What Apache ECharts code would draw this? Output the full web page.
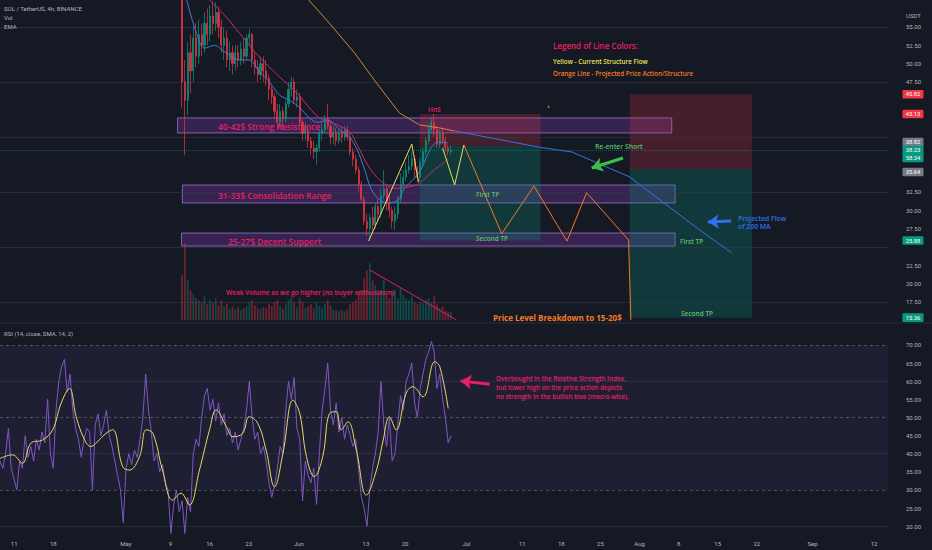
<!DOCTYPE html>
<html>
<head>
<meta charset="utf-8">
<script src="https://cdn.jsdelivr.net/npm/echarts@6.0.0/dist/echarts.min.js"></script>
<style>
html,body{margin:0;padding:0;background:#151924;overflow:hidden;}
#chart{width:932px;height:550px;}
</style>
</head>
<body>
<div id="chart"></div>
<script>
// ---------------- DATA (x = days since 9 Apr 2022) ----------------
const candleStartDay = 32.5;      // 12h candles
const candleStep = 0.5;
// [open, close, low, high]
const candles = [
 [60.5,47.5,44.0,62.0],[47.5,45.0,37.5,50.5],[45.0,51.5,43.0,53.0],[51.5,49.0,46.0,54.0],[49.0,53.5,47.5,55.0],
 [53.5,51.0,49.5,55.5],[51.0,54.0,50.0,56.0],[54.0,52.5,51.0,55.5],[52.5,55.5,51.5,57.0],[55.5,54.0,52.5,57.5],
 [54.0,56.5,53.0,58.0],[56.5,55.5,54.0,58.5],[55.5,57.0,54.5,58.4],[57.0,55.0,53.5,57.8],[55.0,52.5,51.5,56.0],
 [52.5,53.5,50.5,55.0],[53.5,50.5,49.5,54.5],[50.5,51.5,49.0,53.0],[51.5,50.0,48.5,52.5],[50.0,51.5,49.0,52.5],
 [51.5,50.5,49.5,52.5],[50.5,52.0,49.8,53.0],[52.0,51.0,50.0,53.5],[51.0,53.5,50.5,54.0],[53.5,54.0,52.5,54.8],
 [54.0,50.5,49.5,54.2],[50.5,49.5,48.5,51.5],[49.5,48.5,47.5,50.5],[48.5,50.0,47.8,51.0],[50.0,49.0,47.5,51.0],
 [49.0,48.0,47.0,50.5],[48.0,46.5,45.0,48.5],[46.5,45.5,44.5,47.0],[45.5,43.5,42.5,46.0],[43.5,42.0,41.0,44.5],
 [42.0,43.5,41.5,44.5],[43.5,42.5,41.0,44.0],[42.5,44.5,42.0,45.0],[44.5,46.5,44.0,47.5],[46.5,47.5,45.5,48.2],
 [47.5,45.0,44.5,48.0],[45.0,45.5,44.0,46.5],[45.5,42.0,41.5,46.0],[42.0,40.5,39.5,42.5],[40.5,41.0,39.5,42.0],
 [41.0,39.5,38.5,41.5],[39.5,38.5,37.5,40.0],[38.5,38.0,37.0,39.5],[38.0,38.5,36.2,39.0],[38.5,40.5,38.0,41.0],
 [40.5,41.0,39.5,42.0],[41.0,42.5,40.5,43.0],[42.5,41.5,41.0,44.5],[41.5,40.0,39.0,42.0],[40.0,40.5,39.0,41.5],
 [40.5,39.5,38.8,41.2],[39.5,40.5,39.0,41.0],[40.5,40.0,39.2,41.5],[40.0,41.0,39.5,41.5],[41.0,40.0,39.5,41.5],
 [40.0,38.0,37.5,40.5],[38.0,37.0,36.0,38.5],[37.0,35.5,35.0,37.5],[35.5,33.5,32.5,36.0],[33.5,31.5,31.0,34.0],
 [31.5,28.5,28.0,32.0],[28.5,27.5,26.5,29.5],[27.5,29.0,25.8,29.5],[29.0,28.0,27.0,30.5],[28.0,30.5,27.5,31.0],
 [30.5,29.5,28.5,31.5],[29.5,32.0,29.0,33.0],[32.0,33.0,31.5,35.5],[33.0,31.0,30.0,33.5],[31.0,30.0,29.0,32.0],
 [30.0,28.5,27.5,30.5],[28.5,29.5,27.3,30.5],[29.5,31.5,28.8,32.0],[31.5,33.5,31.0,35.0],[33.5,34.5,33.0,35.5],
 [34.5,35.5,34.0,36.5],[35.5,36.0,35.0,37.5],[36.0,37.0,35.5,38.0],[37.0,35.5,34.5,37.5],[35.5,34.5,33.8,36.0],
 [34.5,36.5,34.0,37.0],[36.5,38.0,36.0,38.5],[38.0,39.5,37.5,40.0],[39.5,41.0,39.0,41.5],[41.0,42.0,40.5,42.6],
 [42.0,41.0,40.0,43.13],[41.0,39.0,38.5,41.5],[39.0,40.5,38.5,41.0],[40.5,39.5,39.0,41.3],[39.5,38.5,38.0,40.0],
 [38.5,38.0,37.5,39.0],[38.0,38.23,37.6,38.8]
];
const volumes = [
 45,77,40,30,26,22,20,18,24,16, 20,18,22,15,20,14,17,12,14,11,
 13,10,12,14,18,20,15,12,11,13, 12,16,14,18,20,14,12,16,20,22,
 18,13,22,18,12,14,16,12,18,14, 12,16,20,15,11,10,9,10,9,11,
 16,18,20,28,30,42,50,57,40,35, 28,30,40,26,22,28,30,22,32,25,
 22,20,24,18,16,18,17,20,22,18, 24,16,12,14,10,9,8
];
const ema200 = [[53.5,60.05],[58.3,55.95],[63.3,51.45],[67.2,47.36],[71.3,43.27],[74.9,41.64],[78.5,41.23],[81.15,40.82]];
const ma200Projection = [[81.15,40.82],[96.3,38.6],[102.1,37.95],[112.4,34.55],[124.9,27.3],[130.6,24.2]];
const emaFast = [[33.1,59.4],[34.7,55.0],[36.5,52.1],[38.3,52.5],[40.1,51.6],[42.7,50.5],[44.5,50.5],[46.3,48.9],[48.1,47.5],[49.9,45.7],[51.7,45.0],[53.5,44.0],[55.2,42.6],[56.7,42.0],[58.5,42.3],[60.6,41.0],[62.4,40.0],[63.8,38.2],[65.1,35.5],[66.3,32.8],[67.8,31.4],[69.5,31.0],[71.0,31.4],[72.2,33.0],[74.0,34.4],[75.3,35.8],[76.7,38.2],[78.1,39.3],[79.9,39.2]];
const emaSlow = [[35.5,60.5],[37.4,58.7],[40.1,56.6],[42.7,54.2],[46.3,50.9],[49.9,48.2],[52.9,46.1],[55.2,44.0],[57.0,42.6],[59.7,41.8],[62.4,40.7],[63.8,38.9],[65.6,36.2],[67.8,34.1],[70.4,33.0],[73.1,33.2],[74.9,33.7],[77.0,35.2],[79.9,36.9]];
const structureA = [[65.8,25.82],[73.5,39.04],[74.7,33.86]];
const structureB = [[79.0,38.5],[81.15,33.45],[82.8,38.91]];
const projectedPath = [[82.8,38.91],[89.55,26.8],[95.3,33.3],[101.2,25.8],[104.7,32.4],[112.2,25.95],[112.6,15.05]];
const volumeTrend = [[66.0,21.86],[81.5,15.04]];
const markerDot = [[97.9,44.1]];
// level boxes: [fromDay, top, toDay, bottom]
const levelBoxes = [[31.7,42.6,119.9,40.55],[32.55,33.45,120.5,31.0],[32.4,26.9,120.5,25.13]];
// short positions: [fromDay, toDay, stop, entry, target]
const shortPositions = [[74.9,96.5,43.13,38.82,25.88],[112.4,134.2,45.82,35.64,15.36]];
const gridPrices = [55,47.5,40,32.5,25,17.5];
const lastPrice = 38.23;
const arrowGreen = [[111.2,37.14],[105.6,35.77]];
const arrowBlue = [[130.5,28.54],[126.35,28.4]];
const arrowPink = [[87.4,59.2],[82.2,60.1]];
const badgeValues = [45.82,43.13,38.82,38.23,35.64,25.88,15.36];
const badgeTexts = ['45.82','43.13','38.82','38.23','35.64','25.88','15.36'];
const countdownText = '58:34';

const rsiStartDay = 0, rsiStep = 0.5;
const rsi = [38,36,40,47,36,33,30,38,36,45, 39,42,38,44,41,46,43,55,40,36,
 52,60,64,66,57,62,52,47,44,39, 44,47,46,30,48,51,45,48,52,45,
 42,38,34,30,21,36,40,37,41,39, 44,50,62,52,46,38,40,35,37,32,
 30,18,26,30,24,27,18,28,24,40, 44,42,50,56,58,52,55,49,54,48,
 51,45,47,43,46,41,44,47,52,60, 50,44,46,40,42,38,32,28,31,36,
 42,40,52,60,55,61,47,44,27,38, 34,32,36,26,40,52,58,65,52,48,
 54,46,50,44,48,45,42,44,36,28, 25,20,30,36,40,46,60,48,42,50,
 38,40,48,56,52,60,62,65,54,50, 58,62,66,68,71,68,58,62,55,50, 43,45];
const rsiMaDays = [0,2.2,4.0,5.5,7.6,9.4,10.9,12.4,13.6,15.1,16.2,17.7,18.9,20.1,21.9,23.1,24.9,26.1,27.3,29.0,30.8,32.3,33.8,35.6,37.4,38.6,40.4,41.6,43.3,44.5,46.0,47.5,49.0,50.5,52.3,53.5,54.7,56.1,57.6,58.8,60.0,60.9,62.1,63.6,65.4,67.2,68.4,69.5,70.7,72.5,73.7,75.5,77.6,78.5,80.0];
const rsiMa = [38.7,39.7,37.4,42.9,43.8,46.6,53.9,58.0,50.2,43.8,42.0,43.8,45.6,46.6,36.4,35.5,39.2,46.6,45.6,35.5,27.2,29.1,25.9,35.5,46.6,52.1,47.5,44.7,45.6,50.2,48.4,41.0,30.9,40.1,54.8,51.1,39.2,33.7,39.2,51.1,51.6,46.6,48.8,41.0,28.6,35.5,43.8,50.2,46.6,56.7,58.5,55.7,65.4,64.0,52.5];
const rsiLevels = [70,50,30];
const rsiGrid = [20,40,60];

const xTickDays = [2,9,22,30,37,44,53,65,72,83,93,100,107,114,121,128,135,145,156];
const xTickLabels = ['11','18','May','9','16','23','Jun','13','20','Jul','11','18','25','Aug','8','15','22','Sep','12'];

// ---------------- CHART ----------------
const X_MIN = 0, X_MAX = 158.5;
const UP = '#089981', DOWN = '#f23645';
const AX = '#b2b5be';
const FONT = 'Roboto';
const AFONT = 'Open Sans';

const candleData = candles.map((c,i)=>[candleStartDay + i*candleStep, c[0], c[1], c[2], c[3]]);
const volumeData = volumes.map((v,i)=>({value:[candleStartDay + i*candleStep, v],
  itemStyle:{color: candles[i][1] >= candles[i][0] ? 'rgba(8,153,129,0.38)' : 'rgba(242,54,69,0.38)'}}));
const rsiData = rsi.map((v,i)=>[rsiStartDay + i*rsiStep, v]);
const rsiMaData = rsiMaDays.map((d,i)=>[d, rsiMa[i]]);

const boxAreas = levelBoxes.map(b=>[
  {coord:[b[0],b[1]], itemStyle:{color:'rgba(140,60,190,0.28)', borderColor:'rgba(160,120,220,0.75)', borderWidth:1}},
  {coord:[b[2],b[3]]}
]);
const posAreas = [];
shortPositions.forEach(p=>{
  posAreas.push([{coord:[p[0],p[2]], itemStyle:{color:'rgba(242,54,69,0.22)'}},{coord:[p[1],p[3]]}]);
  posAreas.push([{coord:[p[0],p[3]], itemStyle:{color:'rgba(8,153,129,0.25)'}},{coord:[p[1],p[4]]}]);
});

function lineSeries(name, data, color, extra){
  return Object.assign({name, type:'line', xAxisIndex:0, yAxisIndex:0, data, showSymbol:false, symbol:'none',
    lineStyle:{color, width:1}, z:3, silent:true, animation:false}, extra||{});
}
function arrowLine(pts, color, w){
  return [
    {coord:pts[0], symbol:'none', lineStyle:{color, width:w, type:'solid'}, itemStyle:{color}},
    {coord:pts[1], symbol:'arrow', symbolSize:11, itemStyle:{color}}
  ];
}

const chart = echarts.init(document.getElementById('chart'), null, {renderer:'svg', width:932, height:550});

// hide axis labels that sit under a price badge
function nearBadge(v){ return badgeValues.some(b=>Math.abs(b-v) < 1.25); }

const xAxisBase = {type:'value', min:X_MIN, max:X_MAX, show:false};
const option = {
  backgroundColor:'#151924',
  animation:false,
  grid:[
    {left:0, top:0, width:888, height:320.3},
    {left:0, top:220, width:888, height:100.3},
    {left:0, top:323.25, width:888, height:221.1},
    {left:0, top:537, width:888, height:1}
  ],
  xAxis:[
    Object.assign({gridIndex:0}, xAxisBase),
    Object.assign({gridIndex:1}, xAxisBase),
    Object.assign({gridIndex:2}, xAxisBase),
    {gridIndex:3, type:'value', min:X_MIN, max:X_MAX, interval:1,
     axisLine:{show:false}, axisTick:{show:false}, splitLine:{show:false},
     axisLabel:{color:AX, fontSize:6, fontFamily:FONT, margin:2, showMinLabel:true, showMaxLabel:true,
       formatter:v=>{const r=Math.round(v); if(Math.abs(v-r)>1e-6) return ''; const i=xTickDays.indexOf(r); return i>=0?xTickLabels[i]:'';}}}
  ],
  yAxis:[
    {gridIndex:0, type:'value', position:'right', min:15, max:58.68, interval:2.5,
     axisLine:{show:false}, axisTick:{show:false}, splitLine:{show:false},
     axisLabel:{color:AX, fontSize:6, fontFamily:FONT, margin:18,
       formatter:v=>(v>=17.4 && v<=55.1 && !nearBadge(v))? v.toFixed(2):''}},
    {gridIndex:1, type:'value', min:0, max:100, show:false},
    {gridIndex:2, type:'value', position:'right', min:15, max:76, interval:5,
     axisLine:{show:false}, axisTick:{show:false}, splitLine:{show:false},
     axisLabel:{color:AX, fontSize:6, fontFamily:FONT, margin:18,
       formatter:v=>(v>=20 && v<=70 && Math.abs(v%5)<1e-6)? v.toFixed(2):''}},
    {gridIndex:3, type:'value', min:0, max:1, show:false}
  ],
  series:[
    {name:'SOL', type:'candlestick', xAxisIndex:0, yAxisIndex:0, data:candleData,
     encode:{x:0, y:[1,2,3,4]}, barWidth:1.6, z:2, silent:true, clip:true,
     itemStyle:{color:UP, color0:DOWN, borderColor:UP, borderColor0:DOWN, borderWidth:0.8, opacity:0.85},
     markArea:{silent:true, data: boxAreas.concat(posAreas)},
     markLine:{silent:true, symbol:['none','none'], z:1, label:{show:false},
       data: gridPrices.map(p=>({yAxis:p, lineStyle:{color:'rgba(54,58,72,0.55)', width:1, type:'solid'}}))
         .concat([{yAxis:lastPrice, lineStyle:{color:'rgba(8,153,129,0.55)', width:1, type:'dotted'}}])}},
    {name:'Vol', type:'bar', xAxisIndex:1, yAxisIndex:1, data:volumeData, barWidth:1.8, z:1, silent:true},
    lineSeries('EMA200', ema200, '#c98a3c'),
    lineSeries('MA200 projection', ma200Projection, '#3b6ee8', {
      markLine:{silent:true, symbol:['none','arrow'], symbolSize:11, z:6, label:{show:false},
        data:[arrowLine(arrowGreen,'#3fbf4a',3), arrowLine(arrowBlue,'#2f6ff0',3)]}}),
    lineSeries('EMA fast', emaFast, '#3f7fd6', {smooth:0.3}),
    lineSeries('EMA slow', emaSlow, '#c72c6a', {smooth:0.3}),
    lineSeries('Structure A', structureA, '#e5e05a'),
    lineSeries('Structure B', structureB, '#e5e05a'),
    lineSeries('Projected path', projectedPath, '#f07a2a'),
    lineSeries('Volume trend', volumeTrend, '#e91e63'),
    {name:'dot', type:'scatter', xAxisIndex:0, yAxisIndex:0, data:markerDot, symbolSize:2,
     itemStyle:{color:'#f07a2a'}, silent:true, z:3},
    {name:'RSI', type:'line', xAxisIndex:2, yAxisIndex:2, data:rsiData, showSymbol:false, symbol:'none',
     lineStyle:{color:'#7e57c2', width:1}, z:3, silent:true,
     markArea:{silent:true, data:[[{yAxis:70, itemStyle:{color:'rgba(126,87,194,0.10)'}},{yAxis:30}]]},
     markLine:{silent:true, symbol:['none','none'], label:{show:false}, z:2,
       data: rsiLevels.map(v=>({yAxis:v, lineStyle:{color:'rgba(120,123,134,0.55)', width:1, type:[3,3]}}))
        .concat(rsiGrid.map(v=>({yAxis:v, lineStyle:{color:'rgba(54,58,72,0.55)', width:1, type:'solid'}})))}},
    {name:'RSI MA', type:'line', xAxisIndex:2, yAxisIndex:2, data:rsiMaData, showSymbol:false, symbol:'none',
     smooth:0.4, lineStyle:{color:'#e6de5f', width:1}, z:4, silent:true,
     markLine:{silent:true, symbol:['none','arrow'], symbolSize:11, label:{show:false}, z:6,
       data:[arrowLine(arrowPink,'#e91e63',3)]}},
    {name:'axis', type:'line', xAxisIndex:3, yAxisIndex:3, data:[], silent:true}
  ]
};
chart.setOption(option);

// ---------------- annotations ----------------
function txt(text, x, y, color, size, weight, family, align){
  return {type:'text', x, y, z:100, silent:true,
    style:{text, fill:color, fontSize:size, fontWeight:weight||'normal', fontFamily:family||AFONT,
      align:align||'left', verticalAlign:'middle'}};
}
const PINK='#e91e63', GREEN='#5fbf6a', ORANGE='#f57a22', BLUE='#2f6ff0', YEL='#e8e35a';
const g = [
  {type:'line', shape:{x1:0,y1:323,x2:932,y2:323}, style:{stroke:'#2a2e39', lineWidth:1}, z:90, silent:true},
  txt('SOL / TetherUS, 4h, BINANCE', 4, 8, AX, 6, 'normal', FONT),
  txt('Vol', 4, 17, AX, 6, 'normal', FONT),
  txt('EMA', 4, 26, AX, 6, 'normal', FONT),
  txt('RSI (14, close, SMA, 14, 2)', 4, 333, AX, 6, 'normal', FONT),
  txt('USDT', 906, 15, AX, 6, 'normal', FONT),
  txt('40-42$ Strong Resistance', 218, 126, PINK, 8.5, '600'),
  txt('31-33$ Consolidation Range', 218, 195, PINK, 8.5, '600'),
  txt('25-27$ Decent Support', 228, 241, PINK, 8.5, '600'),
  txt('Weak Volume as we go higher (no buyer enthusiasm)', 226, 292, PINK, 6.6, '600'),
  txt('HnS', 428, 109, PINK, 6.5, '600'),
  txt('First TP', 476, 194, GREEN, 6.5, '600'),
  txt('Second TP', 476, 238, GREEN, 6.5, '600'),
  txt('Re-enter Short', 595, 146, GREEN, 6.8, '600'),
  txt('Projected Flow', 738, 218, BLUE, 6.8, '600'),
  txt('of 200 MA', 738, 226, BLUE, 6.8, '600'),
  txt('First TP', 680, 241, GREEN, 6.5, '600'),
  txt('Second TP', 681, 313, GREEN, 6.5, '600'),
  txt('Price Level Breakdown to 15-20$', 493, 317, ORANGE, 8, 'bold'),
  txt('Legend of Line Colors:', 553, 45, PINK, 8, '600'),
  txt('Yellow - Current Structure Flow', 553, 61, YEL, 6.3, '600'),
  txt('Orange Line - Projected Price Action/Structure', 553, 73, ORANGE, 6.3, '600'),
  txt('Overbought in the Relative Strength Index,', 496, 378, PINK, 6.3, '600'),
  txt('but lower high on the price action depicts', 496, 387, PINK, 6.3, '600'),
  txt('no strength in the bullish bias (macro-wise).', 496, 396, PINK, 6.3, '600')
];
// price badges on the right axis, positioned through the price scale
const badgeColors = [DOWN, DOWN, '#787b86', UP, '#787b86', UP, UP];
const badgeShift = [0, 0, -3.5, 0, 3, 0, 0];
badgeValues.forEach((v,i)=>{
  const y = chart.convertToPixel({yAxisIndex:0}, v) + badgeShift[i];
  const twoLine = (v === lastPrice);
  const h = twoLine ? 16.5 : 8.6;
  g.push({type:'rect', z:95, silent:true, shape:{x:902.5, y:y-4.3, width:21, height:h, r:1}, style:{fill:badgeColors[i]}});
  g.push(txt(badgeTexts[i], 913, y, '#ffffff', 5.8, 'normal', FONT, 'center'));
  if (twoLine) g.push(txt(countdownText, 913, y+8, '#ffffff', 5.8, 'normal', FONT, 'center'));
});
chart.setOption({graphic: g});
</script>
</body>
</html>
